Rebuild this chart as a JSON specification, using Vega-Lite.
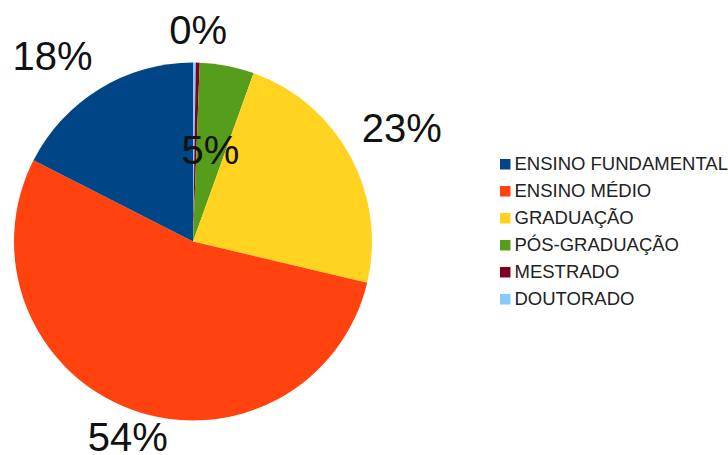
{
  "$schema": "https://vega.github.io/schema/vega-lite/v6.json",
  "autosize": {"type": "none"},
  "width": 386,
  "height": 425,
  "padding": {"left": 0, "top": 29, "right": 342, "bottom": 1},
  "background": "white",
  "config": {"view": {"stroke": null}, "font": "Liberation Sans"},
  "data": {
    "values": [
      {"cat": "DOUTORADO", "value": 0.25, "ord": 1, "label": "0%"},
      {"cat": "MESTRADO", "value": 0.35, "ord": 2, "label": "0%"},
      {"cat": "PÓS-GRADUAÇÃO", "value": 4.9, "ord": 3, "label": "5%"},
      {"cat": "GRADUAÇÃO", "value": 23.2, "ord": 4, "label": "23%"},
      {"cat": "ENSINO MÉDIO", "value": 53.8, "ord": 5, "label": "54%"},
      {"cat": "ENSINO FUNDAMENTAL", "value": 17.5, "ord": 6, "label": "18%"}
    ]
  },
  "encoding": {
    "theta": {"field": "value", "type": "quantitative", "stack": true},
    "order": {"field": "ord", "type": "quantitative"}
  },
  "layer": [
    {
      "mark": {"type": "arc", "outerRadius": 179},
      "encoding": {
        "color": {
          "field": "cat",
          "type": "nominal",
          "scale": {
            "domain": ["ENSINO FUNDAMENTAL", "ENSINO MÉDIO", "GRADUAÇÃO", "PÓS-GRADUAÇÃO", "MESTRADO", "DOUTORADO"],
            "range": ["#004586", "#ff420e", "#ffd320", "#579d1c", "#7e0021", "#83caff"]
          },
          "legend": {
            "title": null,
            "orient": "none",
            "legendX": 496,
            "legendY": 126,
            "padding": 0,
            "symbolType": "square",
            "symbolSize": 110,
            "symbolStrokeWidth": 0,
            "labelFont": "Liberation Sans",
            "labelFontSize": 18.5,
            "labelColor": "#222222",
            "labelOffset": 0,
            "labelLimit": 0,
            "rowPadding": 8
          }
        }
      }
    },
    {
      "mark": {"type": "text", "radius": 192, "align": "right", "baseline": "bottom", "fontSize": 40, "font": "Liberation Sans", "color": "#111111"},
      "encoding": {"text": {"condition": {"test": "datum.cat === 'ENSINO FUNDAMENTAL'", "field": "label"}, "value": ""}}
    },
    {
      "mark": {"type": "text", "radius": 189, "align": "center", "baseline": "top", "fontSize": 40, "font": "Liberation Sans", "color": "#111111"},
      "encoding": {"text": {"condition": {"test": "datum.cat === 'ENSINO MÉDIO'", "field": "label"}, "value": ""}}
    },
    {
      "mark": {"type": "text", "radius": 192, "align": "left", "baseline": "bottom", "fontSize": 40, "font": "Liberation Sans", "color": "#111111"},
      "encoding": {"text": {"condition": {"test": "datum.cat === 'GRADUAÇÃO'", "field": "label"}, "value": ""}}
    },
    {
      "mark": {"type": "text", "radius": 190, "align": "center", "baseline": "bottom", "fontSize": 40, "font": "Liberation Sans", "color": "#111111"},
      "encoding": {"text": {"condition": {"test": "datum.cat === 'MESTRADO'", "field": "label"}, "value": ""}}
    },
    {
      "mark": {"type": "text", "radius": 91, "align": "center", "baseline": "middle", "fontSize": 40, "font": "Liberation Sans", "color": "#111111"},
      "encoding": {"text": {"condition": {"test": "datum.cat === 'PÓS-GRADUAÇÃO'", "field": "label"}, "value": ""}}
    }
  ]
}
